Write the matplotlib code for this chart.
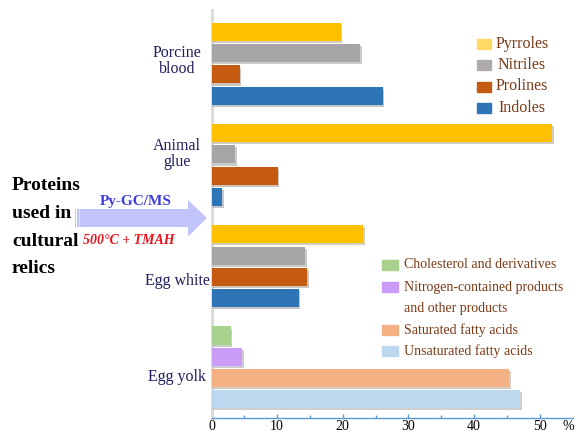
import matplotlib
matplotlib.use('Agg')
import matplotlib.pyplot as plt
import matplotlib.patheffects as pe
from matplotlib.patches import Rectangle, Polygon

plt.rcParams['font.family'] = ['Liberation Serif', 'DejaVu Serif']

# data (percent)
groups = ['Porcine\nblood', 'Animal\nglue', 'Egg white', 'Egg yolk']
protein_series = ['Pyrroles', 'Nitriles', 'Prolines', 'Indoles']
protein_values = [
    [19.7, 22.6, 4.3, 26.1],   # porcine blood
    [51.9, 3.6, 10.1, 1.6],    # animal glue
    [23.1, 14.3, 14.6, 13.3],  # egg white
]
yolk_series = ['Cholesterol and derivatives',
               'Nitrogen-contained products\nand other products',
               'Saturated fatty acids', 'Unsaturated fatty acids']
yolk_values = [2.9, 4.7, 45.4, 47.0]

protein_colors = ['#ffc000', '#a5a5a5', '#c55a11', '#2e75b6']
protein_legend_colors = ['#ffd966', '#aeaaaa', '#c55a11', '#2e75b6']
yolk_colors = ['#a9d18e', '#c99cf7', '#f4b183', '#bdd7ee']

W, H = 574, 433
fig = plt.figure(figsize=(W / 100, H / 100), dpi=100)


def fx(px):
    return px / W


def fy(py):
    return 1 - py / H


ax = fig.add_axes([fx(211.5), fy(418), fx(572.5) - fx(211.5), fy(10) - fy(418)])

gap = 0.77
bar_h = 0.85
shadow = [pe.SimplePatchShadow(offset=(1.2, -1.5), alpha=0.25), pe.Normal()]

for g, vals in enumerate(protein_values):
    base = g * (4 + gap)
    ys = [base + i for i in range(4)]
    bars = ax.barh(ys, vals, height=bar_h, color=protein_colors, zorder=3)
    for b in bars:
        b.set_path_effects(shadow)

base = 3 * (4 + gap)
ys = [base + i for i in range(4)]
bars = ax.barh(ys, yolk_values, height=bar_h, color=yolk_colors, zorder=3)
for b in bars:
    b.set_path_effects(shadow)

ax.set_xlim(0, 55)
ax.set_ylim(18.2, -1.04)
ax.set_xticks(range(0, 51, 10))
ax.set_xticks(range(5, 51, 10), minor=True)
ax.set_yticks([])
ax.tick_params(axis='x', direction='in', length=3, width=1, color='#5b9bd5',
               labelsize=10, pad=1.5)
ax.tick_params(axis='x', which='minor', direction='in', length=2, width=1,
               color='#5b9bd5')
for s in ['top', 'right']:
    ax.spines[s].set_visible(False)
ax.spines['left'].set_color('#d9d9d9')
ax.spines['left'].set_linewidth(2)
ax.spines['bottom'].set_color('#5b9bd5')
ax.spines['bottom'].set_linewidth(1)

fig.text(fx(568), fy(426), '%', ha='center', va='center', fontsize=10)

# group labels
label_y = [61, 154, 281, 377]
for lab, py in zip(groups, label_y):
    fig.text(fx(177), fy(py), lab, ha='center', va='center', fontsize=11.5,
             color='#1f1f5e', linespacing=1.0)

# legends drawn by hand
txt_col = '#7b3a17'
leg1_y = [43.5, 65, 86.5, 108]
for name, col, py in zip(protein_series, protein_legend_colors, leg1_y):
    fig.patches.append(Rectangle((fx(477), fy(py + 5)), fx(14), 10 / H,
                                 transform=fig.transFigure, color=col))
    fig.text(fx(522), fy(py), name, ha='center', va='center', fontsize=11.5,
             color=txt_col)

leg2_y = [265, 287, 330, 351]
for name, col, py in zip(yolk_series, yolk_colors, leg2_y):
    fig.patches.append(Rectangle((fx(382), fy(py + 5)), fx(16), 10 / H,
                                 transform=fig.transFigure, color=col))
    lines = name.split('\n')
    for k, ln in enumerate(lines):
        fig.text(fx(404), fy(py + k * 21.5), ln, ha='left', va='center',
                 fontsize=10, color=txt_col)

# left-hand annotation
for k, word in enumerate(['Proteins', 'used in', 'cultural', 'relics']):
    fig.text(fx(12), fy(186 + k * 27.5), word, ha='left', va='center',
             fontsize=14, fontweight='bold', color='black')

arrow_col = '#c0c4fb'
arrow = Polygon([(fx(79.5), fy(209)), (fx(188), fy(209)), (fx(188), fy(200)),
                 (fx(207), fy(218)), (fx(188), fy(236.5)), (fx(188), fy(227)),
                 (fx(79.5), fy(227))], closed=True, transform=fig.transFigure,
                color=arrow_col, lw=0)
fig.patches.append(arrow)
for sx in [75, 77.3]:
    fig.patches.append(Rectangle((fx(sx), fy(227)), fx(1.2), 18 / H,
                                 transform=fig.transFigure, color=arrow_col, lw=0))

fig.text(fx(136), fy(201.5), 'Py-GC/MS', ha='center', va='center', fontsize=11,
         fontweight='bold', color='#3d3ddb')
fig.text(fx(129), fy(240.5), '500°C + TMAH', ha='center', va='center',
         fontsize=10, fontweight='bold', fontstyle='italic', color='#e8141c')

fig.savefig('out.png', dpi=100)
